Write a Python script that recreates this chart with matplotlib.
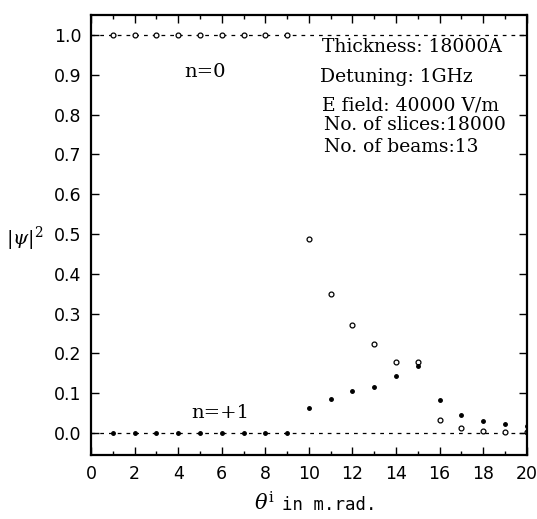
import numpy as np
import matplotlib
matplotlib.use('Agg')
import matplotlib.pyplot as plt
from matplotlib.ticker import MultipleLocator

plt.rcParams['font.family'] = ['DejaVu Sans']
plt.rcParams['mathtext.fontset'] = 'dejavuserif'

# incidence angle, m.rad
theta = [1, 2, 3, 4, 5, 6, 7, 8, 9, 10, 11, 12, 13, 14, 15, 16, 17, 18, 19, 20]
# n=0 beam intensity (open circles)
n0 = [1.0, 1.0, 1.0, 1.0, 1.0, 1.0, 1.0, 1.0, 1.0,
      0.487, 0.35, 0.271, 0.225, 0.179, 0.178, 0.034, 0.013, 0.005, 0.003, 0.002]
# n=+1 beam intensity (dots)
n1 = [0.0, 0.0, 0.0, 0.0, 0.0, 0.0, 0.0, 0.0, 0.0,
      0.064, 0.085, 0.105, 0.116, 0.143, 0.168, 0.083, 0.045, 0.031, 0.022, 0.018]

info = ['Thickness: 18000A', 'Detuning: 1GHz', 'E field: 40000 V/m',
        'No. of slices:18000', 'No. of beams:13']

fig = plt.figure(figsize=(5.37, 5.19), dpi=100)
ax = fig.add_axes([0.1695, 0.1233, 0.8115, 0.8477])

ax.axhline(1.0, color='black', ls=(0, (3, 4)), lw=0.9)
ax.axhline(0.0, color='black', ls=(0, (3, 4)), lw=0.9)
ax.plot(theta, n0, 'o', mfc='white', mec='black', ms=3.5, mew=0.9, ls='none')
ax.plot(theta, n1, 'o', color='black', ms=2.5, ls='none')

ax.set_xlim(0, 20)
ax.set_ylim(-0.055, 1.05)
ax.xaxis.set_major_locator(MultipleLocator(2))
ax.xaxis.set_minor_locator(MultipleLocator(1))
ax.set_yticks(np.arange(0, 1.01, 0.1))
ax.set_yticklabels(['%.1f' % v for v in np.arange(0, 1.01, 0.1)])
ax.tick_params(which='both', direction='in', top=True, right=True, labelsize=12.5)
ax.tick_params(which='major', length=6, width=1, pad=7)
ax.tick_params(which='minor', length=3, width=1)
for s in ax.spines.values():
    s.set_linewidth(1.6)

ax.text(4.3, 0.907, 'n=0', fontsize=14, family='DejaVu Serif', va='center')
ax.text(4.6, 0.05, 'n=+1', fontsize=14, family='DejaVu Serif', va='center')

xs = [10.6, 10.5, 10.6, 10.7, 10.7]
ys = [0.970, 0.894, 0.824, 0.774, 0.719]
for t, xv, yv in zip(info, xs, ys):
    ax.text(xv, yv, t, fontsize=13.5, family='DejaVu Serif', va='center')

fig.text(0.012, 0.54, r'$|\psi|^2$', fontsize=14, va='center')
fig.text(0.473, 0.017, r'$\theta^{\mathrm{i}}$', fontsize=15, va='baseline')
fig.text(0.525, 0.017, 'in m.rad.', fontsize=12.5, family='DejaVu Sans Mono', va='baseline')

fig.savefig('out.png', dpi=100)
